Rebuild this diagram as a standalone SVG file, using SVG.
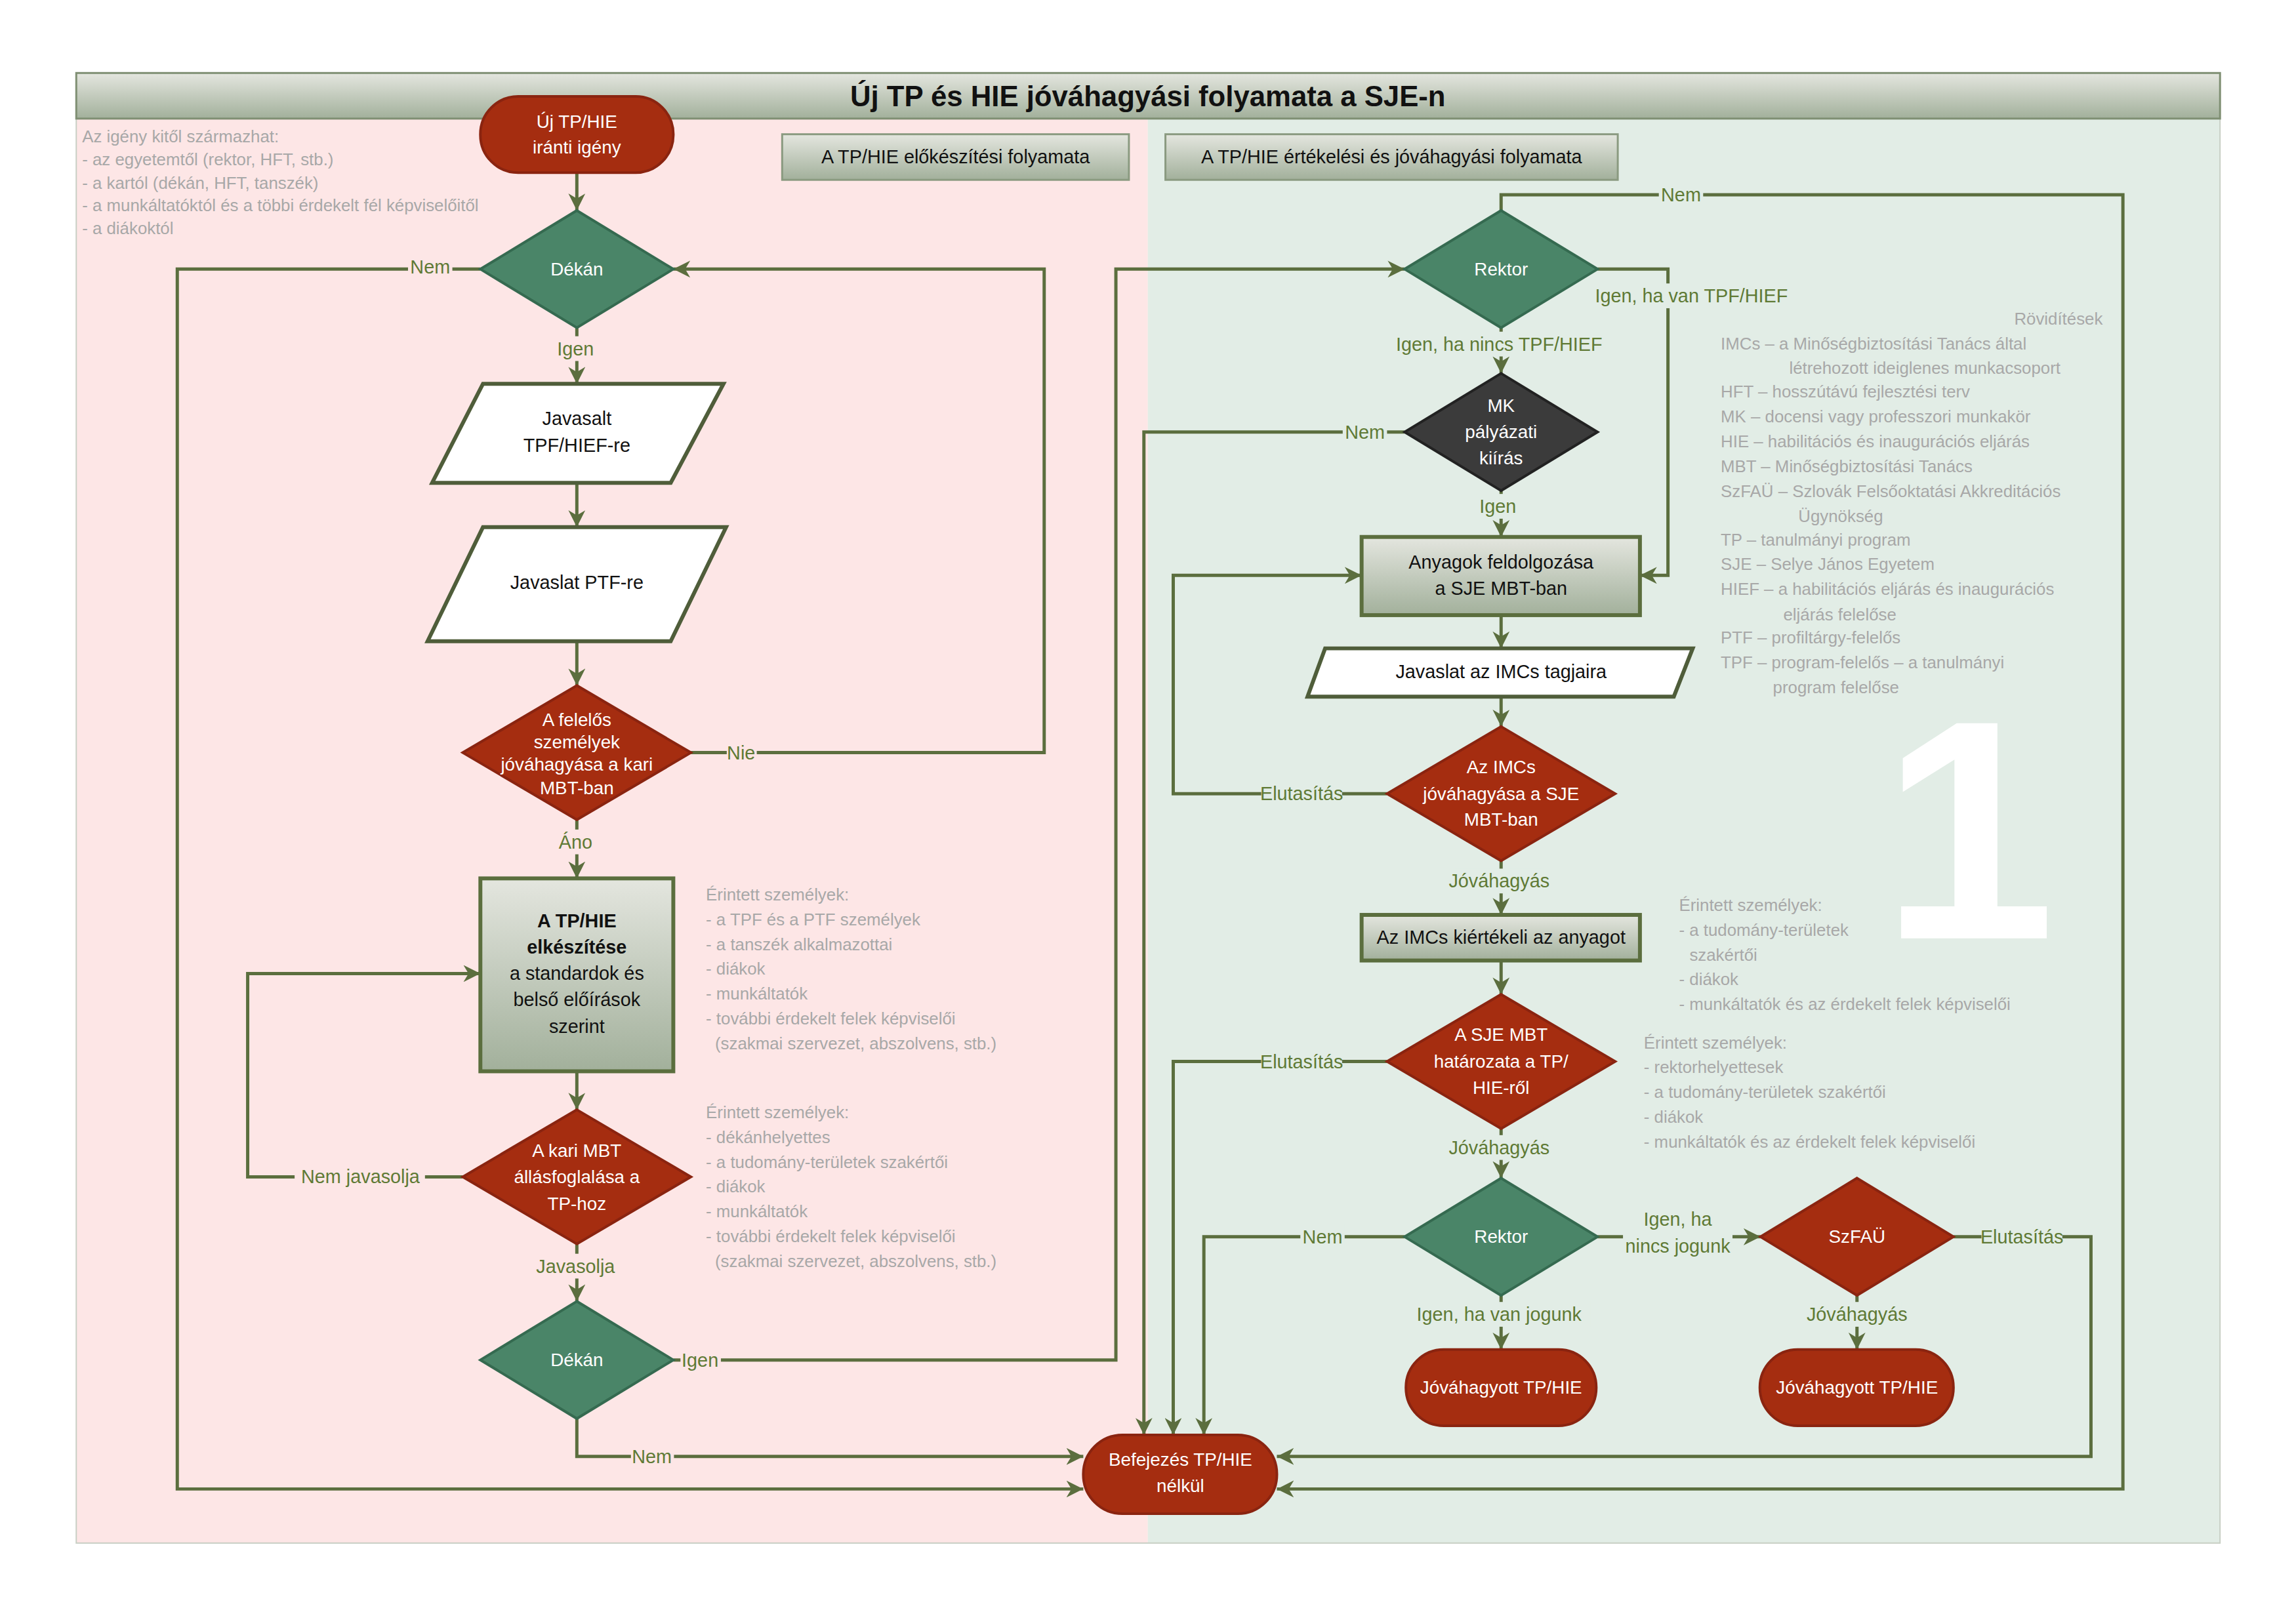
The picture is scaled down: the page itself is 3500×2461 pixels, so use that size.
<svg xmlns="http://www.w3.org/2000/svg" width="3500" height="2461" viewBox="0 0 3500 2461">
<defs>
<linearGradient id="gb" x1="0" y1="0" x2="0" y2="1"><stop offset="0" stop-color="#e4e6df"/><stop offset="1" stop-color="#a2b09b"/></linearGradient>
<marker id="a" viewBox="0 0 10 10" refX="10" refY="5" markerWidth="26" markerHeight="26" markerUnits="userSpaceOnUse" orient="auto"><path d="M0,0 L10,5 L0,10 L3,5 Z" fill="#5b6e3e"/></marker>
<style>
.ca{fill:none;stroke:#5b6e3e;stroke-width:5;marker-end:url(#a)}
.lb{font-family:"Liberation Sans",Arial,sans-serif;font-size:29px;fill:#5f7a35;text-anchor:middle;dominant-baseline:central}
.w{font-family:"Liberation Sans",Arial,sans-serif;font-size:28px;fill:#fff;text-anchor:middle;dominant-baseline:central}
.k{font-family:"Liberation Sans",Arial,sans-serif;font-size:29px;fill:#111;text-anchor:middle;dominant-baseline:central}
.g{font-family:"Liberation Sans",Arial,sans-serif;font-size:26px;fill:#a8a8a8}
.dg{fill:#4a8568;stroke:#356a50;stroke-width:4}
.rd{fill:#a52d10;stroke:#8a2410;stroke-width:4}
.bk{fill:#3b3b3b;stroke:#222;stroke-width:4}
.bx{fill:url(#gb);stroke:#5b6e3e;stroke-width:6}
.pl{fill:#fff;stroke:#4f5d3a;stroke-width:6}
</style>
</defs>
<rect width="3500" height="2461" fill="#fff"/>
<g transform="scale(0.9936)">
<rect x="117" y="112" width="1644" height="2256" fill="#fde6e6"/>
<rect x="1761" y="112" width="1645" height="2256" fill="#e2ede6"/>
<rect x="117" y="112" width="3289" height="2256" fill="none" stroke="#c8cfc4" stroke-width="2"/>
<g id="title"><rect x="117" y="112" width="3289" height="70" fill="url(#gb)" stroke="#7f8f73" stroke-width="3"/>
<text x="1761" y="147" font-family="Liberation Sans,Arial,sans-serif" font-size="44" font-weight="bold" fill="#111" text-anchor="middle" dominant-baseline="central">Új TP és HIE jóváhagyási folyamata a SJE-n</text></g>
<text x="3020" y="1440" font-family="Liberation Sans,Arial,sans-serif" font-size="480" font-weight="bold" fill="#fff" text-anchor="middle">1</text>
<g id="hdr1"><rect x="1200" y="206" width="532" height="70" fill="url(#gb)" stroke="#8a9a80" stroke-width="3"/><text class="k" x="1466" y="241">A TP/HIE előkészítési folyamata</text></g>
<g id="hdr2"><rect x="1788" y="206" width="694" height="70" fill="url(#gb)" stroke="#8a9a80" stroke-width="3"/><text class="k" x="2135" y="241">A TP/HIE értékelési és jóváhagyási folyamata</text></g>
<g id="notes" class="g">
<text x="126" y="218">Az igény kitől származhat:</text>
<text x="126" y="254">- az egyetemtől (rektor, HFT, stb.)</text>
<text x="126" y="290">- a kartól (dékán, HFT, tanszék)</text>
<text x="126" y="324">- a munkáltatóktól és a többi érdekelt fél képviselőitől</text>
<text x="126" y="359">- a diákoktól</text>
<text x="1083" y="1382">Érintett személyek:</text>
<text x="1083" y="1420">- a TPF és a PTF személyek</text>
<text x="1083" y="1458">- a tanszék alkalmazottai</text>
<text x="1083" y="1496">- diákok</text>
<text x="1083" y="1534">- munkáltatók</text>
<text x="1083" y="1572">- további érdekelt felek képviselői</text>
<text x="1097" y="1610">(szakmai szervezet, abszolvens, stb.)</text>
<text x="1083" y="1716">Érintett személyek:</text>
<text x="1083" y="1754">- dékánhelyettes</text>
<text x="1083" y="1792">- a tudomány-területek szakértői</text>
<text x="1083" y="1830">- diákok</text>
<text x="1083" y="1868">- munkáltatók</text>
<text x="1083" y="1906">- további érdekelt felek képviselői</text>
<text x="1097" y="1944">(szakmai szervezet, abszolvens, stb.)</text>
<text x="2576" y="1398">Érintett személyek:</text>
<text x="2576" y="1436">- a tudomány-területek</text>
<text x="2592" y="1474">szakértői</text>
<text x="2576" y="1512">- diákok</text>
<text x="2576" y="1550">- munkáltatók és az érdekelt felek képviselői</text>
<text x="2522" y="1609">Érintett személyek:</text>
<text x="2522" y="1647">- rektorhelyettesek</text>
<text x="2522" y="1685">- a tudomány-területek szakértői</text>
<text x="2522" y="1723">- diákok</text>
<text x="2522" y="1761">- munkáltatók és az érdekelt felek képviselői</text>
</g>
<g id="abbr" class="g" font-size="25">
<text x="3226" y="498" text-anchor="end">Rövidítések</text>
<text x="2640" y="536">IMCs – a Minőségbiztosítási Tanács által</text>
<text x="2745" y="574">létrehozott ideiglenes munkacsoport</text>
<text x="2640" y="610">HFT  – hosszútávú fejlesztési terv</text>
<text x="2640" y="648">MK – docensi vagy professzori munkakör</text>
<text x="2640" y="686">HIE – habilitációs és inaugurációs eljárás</text>
<text x="2640" y="725">MBT – Minőségbiztosítási Tanács</text>
<text x="2640" y="763">SzFAÜ – Szlovák Felsőoktatási Akkreditációs</text>
<text x="2759" y="801">Ügynökség</text>
<text x="2640" y="837">TP – tanulmányi program</text>
<text x="2640" y="875">SJE – Selye János Egyetem</text>
<text x="2640" y="913">HIEF – a habilitációs eljárás és inaugurációs</text>
<text x="2736" y="952">eljárás felelőse</text>
<text x="2640" y="987">PTF – profiltárgy-felelős</text>
<text x="2640" y="1026">TPF – program-felelős – a tanulmányi</text>
<text x="2720" y="1064">program felelőse</text>
</g>
<g id="connectors">
<path class="ca" d="M885,265 V323"/>
<path class="ca" d="M885,503 V589"/>
<path class="ca" d="M885,741 V809"/>
<path class="ca" d="M885,984 V1052"/>
<path class="ca" d="M1060,1155 H1602 V413 H1033"/>
<path class="ca" d="M885,1258 V1348"/>
<path class="ca" d="M885,1644 V1703"/>
<path class="ca" d="M710,1806 H380 V1494 H737"/>
<path class="ca" d="M885,1909 V1997"/>
<path class="ca" d="M1033,2087 H1712 V413 H2155"/>
<path class="ca" d="M885,2177 V2235 H1662"/>
<path class="ca" d="M737,413 H272 V2285 H1662"/>
<path class="ca" d="M2303,323 V299 H3257 V2285 H1959"/>
<path class="ca" d="M2451,413 H2559 V883 H2516"/>
<path class="ca" d="M2303,503 V573"/>
<path class="ca" d="M2155,663 H1755 V2202"/>
<path class="ca" d="M2303,753 V824"/>
<path class="ca" d="M2303,944 V995"/>
<path class="ca" d="M2303,1069 V1115"/>
<path class="ca" d="M2128,1218 H1800 V883 H2089"/>
<path class="ca" d="M2303,1321 V1404"/>
<path class="ca" d="M2303,1474 V1526"/>
<path class="ca" d="M2128,1629 H1800 V2202"/>
<path class="ca" d="M2303,1732 V1808"/>
<path class="ca" d="M2155,1898 H1847 V2202"/>
<path class="ca" d="M2451,1898 H2701"/>
<path class="ca" d="M2303,1988 V2071"/>
<path class="ca" d="M2997,1898 H3208 V2235 H1959"/>
<path class="ca" d="M2849,1988 V2071"/>
<g>
<rect x="850" y="516" width="70" height="38" fill="#fde6e6"/><text class="lb" x="883" y="535">Igen</text>
<rect x="1115" y="1136" width="46" height="38" fill="#fde6e6"/><text class="lb" x="1137" y="1155">Nie</text>
<rect x="852" y="1273" width="64" height="38" fill="#fde6e6"/><text class="lb" x="883" y="1292">Áno</text>
<rect x="452" y="1787" width="200" height="38" fill="#fde6e6"/><text class="lb" x="553" y="1806">Nem javasolja</text>
<rect x="818" y="1924" width="130" height="38" fill="#fde6e6"/><text class="lb" x="883" y="1943">Javasolja</text>
<rect x="1044" y="2068" width="62" height="38" fill="#fde6e6"/><text class="lb" x="1074" y="2087">Igen</text>
<rect x="968" y="2216" width="66" height="38" fill="#fde6e6"/><text class="lb" x="1000" y="2235">Nem</text>
<rect x="626" y="391" width="68" height="38" fill="#fde6e6"/><text class="lb" x="660" y="410">Nem</text>
<rect x="2545" y="280" width="68" height="38" fill="#e2ede6"/><text class="lb" x="2579" y="299">Nem</text>
<rect x="2430" y="435" width="310" height="38" fill="#e2ede6"/><text class="lb" x="2595" y="454">Igen, ha van TPF/HIEF</text>
<rect x="2125" y="509" width="350" height="38" fill="#e2ede6"/><text class="lb" x="2300" y="528">Igen, ha nincs TPF/HIEF</text>
<rect x="2060" y="644" width="68" height="38" fill="#e2ede6"/><text class="lb" x="2094" y="663">Nem</text>
<rect x="2265" y="758" width="66" height="38" fill="#e2ede6"/><text class="lb" x="2298" y="777">Igen</text>
<rect x="1935" y="1199" width="124" height="38" fill="#e2ede6"/><text class="lb" x="1997" y="1218">Elutasítás</text>
<rect x="2232" y="1333" width="136" height="38" fill="#e2ede6"/><text class="lb" x="2300" y="1352">Jóváhagyás</text>
<rect x="1935" y="1610" width="124" height="38" fill="#e2ede6"/><text class="lb" x="1997" y="1629">Elutasítás</text>
<rect x="2232" y="1742" width="136" height="38" fill="#e2ede6"/><text class="lb" x="2300" y="1761">Jóváhagyás</text>
<rect x="1995" y="1879" width="68" height="38" fill="#e2ede6"/><text class="lb" x="2029" y="1898">Nem</text>
<rect x="2490" y="1852" width="168" height="80" fill="#e2ede6"/><text class="lb" x="2574" y="1871">Igen, ha</text><text class="lb" x="2574" y="1912">nincs jogunk</text>
<rect x="2160" y="1998" width="280" height="38" fill="#e2ede6"/><text class="lb" x="2300" y="2017">Igen, ha van jogunk</text>
<rect x="3040" y="1879" width="124" height="38" fill="#e2ede6"/><text class="lb" x="3102" y="1898">Elutasítás</text>
<rect x="2781" y="1998" width="136" height="38" fill="#e2ede6"/><text class="lb" x="2849" y="2017">Jóváhagyás</text>
</g>
</g>
<g id="start"><rect x="737" y="148" width="296" height="117" rx="58" class="rd"/><text class="w" x="885" y="187">Új TP/HIE</text><text class="w" x="885" y="226">iránti igény</text></g>
<g id="dekan1"><path class="dg" d="M885,323 L1033,413 L885,503 L737,413 Z"/><text class="w" x="885" y="413">Dékán</text></g>
<g id="par1"><path class="pl" d="M741,589 H1110 L1029,741 H663 Z"/><text class="k" x="885" y="642">Javasalt</text><text class="k" x="885" y="683">TPF/HIEF-re</text></g>
<g id="par2"><path class="pl" d="M741,809 H1114 L1029,984 H656 Z"/><text class="k" x="885" y="894">Javaslat PTF-re</text></g>
<g id="felelos"><path class="rd" d="M885,1052 L1060,1155 L885,1258 L710,1155 Z"/><text class="w" font-size="26" x="885" y="1105">A felelős</text><text class="w" font-size="26" x="885" y="1139">személyek</text><text class="w" font-size="26" x="885" y="1173">jóváhagyása a kari</text><text class="w" font-size="26" x="885" y="1209">MBT-ban</text></g>
<g id="elkeszites"><rect class="bx" x="737" y="1348" width="296" height="296"/><text class="k" font-weight="bold" x="885" y="1413">A TP/HIE</text><text class="k" font-weight="bold" x="885" y="1453">elkészítése</text><text class="k" x="885" y="1494">a standardok és</text><text class="k" x="885" y="1534">belső előírások</text><text class="k" x="885" y="1575">szerint</text></g>
<g id="karimbt"><path class="rd" d="M885,1703 L1060,1806 L885,1909 L710,1806 Z"/><text class="w" x="885" y="1766">A kari MBT</text><text class="w" x="885" y="1806">állásfoglalása a</text><text class="w" x="885" y="1847">TP-hoz</text></g>
<g id="dekan2"><path class="dg" d="M885,1997 L1033,2087 L885,2177 L737,2087 Z"/><text class="w" x="885" y="2087">Dékán</text></g>
<g id="befejezes"><rect x="1662" y="2202" width="297" height="121" rx="60" class="rd"/><text class="w" x="1811" y="2240">Befejezés TP/HIE</text><text class="w" x="1811" y="2280">nélkül</text></g>
<g id="rektor1"><path class="dg" d="M2303,323 L2451,413 L2303,503 L2155,413 Z"/><text class="w" x="2303" y="413">Rektor</text></g>
<g id="mk"><path class="bk" d="M2303,573 L2451,663 L2303,753 L2155,663 Z"/><text class="w" x="2303" y="622">MK</text><text class="w" x="2303" y="663">pályázati</text><text class="w" x="2303" y="703">kiírás</text></g>
<g id="anyagok"><rect class="bx" x="2089" y="824" width="427" height="120"/><text class="k" x="2303" y="863">Anyagok feldolgozása</text><text class="k" x="2303" y="903">a SJE MBT-ban</text></g>
<g id="javaslatimcs"><path class="pl" d="M2033,995 H2597 L2568,1069 H2006 Z"/><text class="k" x="2303" y="1031">Javaslat az IMCs tagjaira</text></g>
<g id="imcs"><path class="rd" d="M2303,1115 L2478,1218 L2303,1321 L2128,1218 Z"/><text class="w" x="2303" y="1177">Az IMCs</text><text class="w" x="2303" y="1218">jóváhagyása a SJE</text><text class="w" x="2303" y="1258">MBT-ban</text></g>
<g id="kiert"><rect class="bx" x="2089" y="1404" width="427" height="70"/><text class="k" x="2303" y="1438">Az IMCs kiértékeli az anyagot</text></g>
<g id="sjembt"><path class="rd" d="M2303,1526 L2478,1629 L2303,1732 L2128,1629 Z"/><text class="w" x="2303" y="1588">A SJE MBT</text><text class="w" x="2303" y="1629">határozata a TP/</text><text class="w" x="2303" y="1669">HIE-ről</text></g>
<g id="rektor2"><path class="dg" d="M2303,1808 L2451,1898 L2303,1988 L2155,1898 Z"/><text class="w" x="2303" y="1898">Rektor</text></g>
<g id="szfau"><path class="rd" d="M2849,1808 L2997,1898 L2849,1988 L2701,1898 Z"/><text class="w" x="2849" y="1898">SzFAÜ</text></g>
<g id="jov1"><rect x="2157" y="2071" width="292" height="117" rx="58" class="rd"/><text class="w" x="2303" y="2129">Jóváhagyott TP/HIE</text></g>
<g id="jov2"><rect x="2700" y="2071" width="297" height="117" rx="58" class="rd"/><text class="w" x="2849" y="2129">Jóváhagyott TP/HIE</text></g>
</g>
</svg>
